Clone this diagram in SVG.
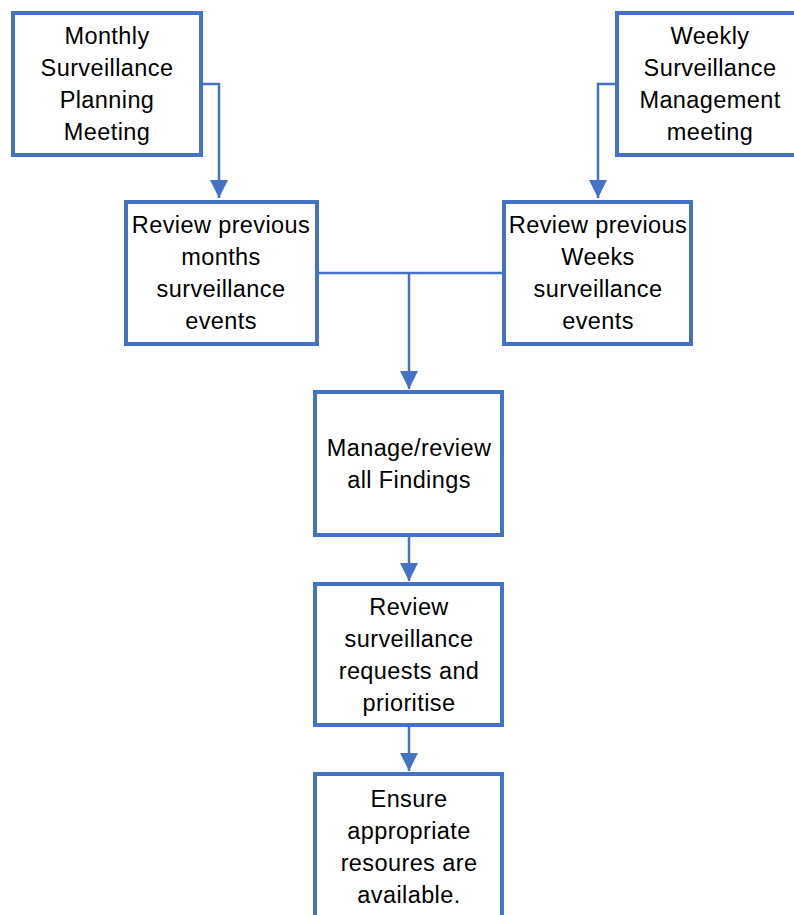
<svg xmlns="http://www.w3.org/2000/svg" width="794" height="915" viewBox="0 0 794 915">
  <style>
    .box { fill: #ffffff; stroke: #4472C4; stroke-width: 4; }
    .link { fill: none; stroke: #4472C4; stroke-width: 2.5; }
    .label { font-family: "Liberation Sans", Arial, sans-serif; font-size: 23.5px; letter-spacing: 0.4px; fill: #000000; text-anchor: middle; }
  </style>
  <defs>
    <marker id="arrow" viewBox="0 0 18 18" refX="18" refY="9" markerWidth="18" markerHeight="18" markerUnits="userSpaceOnUse" orient="auto">
      <path d="M0,0 L18,9 L0,18 Z" fill="#4472C4"/>
    </marker>
  </defs>
  <rect width="794" height="915" fill="#ffffff"/>

  <g id="connectors">
    <path class="link" d="M201,84 H219 V198" marker-end="url(#arrow)"/>
    <path class="link" d="M617,84 H598 V198" marker-end="url(#arrow)"/>
    <path class="link" d="M318,273 H503"/>
    <path class="link" d="M409,273 V389" marker-end="url(#arrow)"/>
    <path class="link" d="M409,537 V581" marker-end="url(#arrow)"/>
    <path class="link" d="M409,727 V771" marker-end="url(#arrow)"/>
  </g>

  <g id="monthly-meeting">
    <rect class="box" x="13" y="13" width="188" height="142"/>
    <text class="label" x="107" y="44">Monthly</text>
    <text class="label" x="107" y="76">Surveillance</text>
    <text class="label" x="107" y="108">Planning</text>
    <text class="label" x="107" y="140">Meeting</text>
  </g>

  <g id="weekly-meeting">
    <rect class="box" x="617" y="13" width="190" height="142"/>
    <text class="label" x="710" y="44">Weekly</text>
    <text class="label" x="710" y="76">Surveillance</text>
    <text class="label" x="710" y="108">Management</text>
    <text class="label" x="710" y="140">meeting</text>
  </g>

  <g id="review-months">
    <rect class="box" x="126" y="202" width="191" height="142"/>
    <text class="label" x="221" y="233">Review previous</text>
    <text class="label" x="221" y="265">months</text>
    <text class="label" x="221" y="297">surveillance</text>
    <text class="label" x="221" y="329">events</text>
  </g>

  <g id="review-weeks">
    <rect class="box" x="504" y="202" width="187" height="142"/>
    <text class="label" x="598" y="233">Review previous</text>
    <text class="label" x="598" y="265">Weeks</text>
    <text class="label" x="598" y="297">surveillance</text>
    <text class="label" x="598" y="329">events</text>
  </g>

  <g id="manage-findings">
    <rect class="box" x="315" y="392" width="187" height="143"/>
    <text class="label" x="409" y="456">Manage/review</text>
    <text class="label" x="409" y="488">all Findings</text>
  </g>

  <g id="review-requests">
    <rect class="box" x="315" y="584" width="187" height="141"/>
    <text class="label" x="409" y="615">Review</text>
    <text class="label" x="409" y="647">surveillance</text>
    <text class="label" x="409" y="679">requests and</text>
    <text class="label" x="409" y="711">prioritise</text>
  </g>

  <g id="ensure-resources">
    <rect class="box" x="315" y="774" width="187" height="160"/>
    <text class="label" x="409" y="807">Ensure</text>
    <text class="label" x="409" y="839">appropriate</text>
    <text class="label" x="409" y="871">resoures are</text>
    <text class="label" x="409" y="903">available.</text>
  </g>
</svg>
